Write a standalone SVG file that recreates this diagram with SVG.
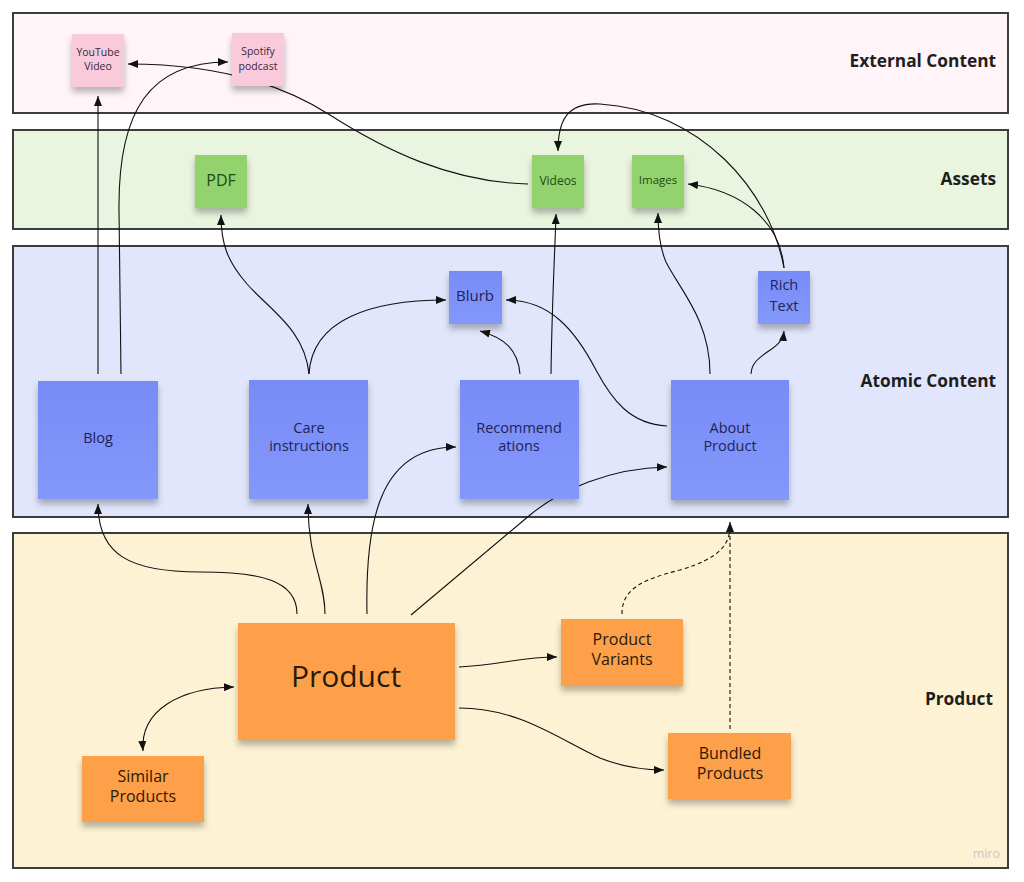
<svg xmlns="http://www.w3.org/2000/svg" width="1024" height="882" viewBox="0 0 1024 882">
<style>
.lane{stroke:#3d3d3d;stroke-width:2}
.lt{font-family:"Open Sans","Liberation Sans",sans-serif;font-weight:bold;font-size:17.3px;fill:#1e1e1e;text-anchor:end}
.t{font-family:"Open Sans","Liberation Sans",sans-serif;text-anchor:middle}
.pk{fill:#f9c9dc}.gr{fill:#92d36e}.bl{fill:url(#bg)}.or{fill:#fea04a}
.tp{fill:#3a2a33;font-size:10.5px}.tg{fill:#234a14}.tb{fill:#1d2456}.to{fill:#2a1a08}
.c{fill:none;stroke:#111;stroke-width:1.1}
.d{stroke-dasharray:4 3}
</style>
<defs>
<linearGradient id="bg" x1="0" y1="0" x2="0" y2="1"><stop offset="0" stop-color="#788cf8"/><stop offset="1" stop-color="#8497fa"/></linearGradient>
<filter id="sh" x="-20%" y="-20%" width="140%" height="150%"><feDropShadow dx="0" dy="5" stdDeviation="3" flood-color="#000" flood-opacity="0.28"/></filter>
<marker id="a" viewBox="0 0 10 8" refX="10" refY="4" markerWidth="10" markerHeight="8" markerUnits="userSpaceOnUse" orient="auto-start-reverse"><path d="M0,0 L10,4 L0,8 z" fill="#111"/></marker>
</defs>
<g id="lanes">
<rect class="lane" x="13" y="13" width="995" height="100" fill="#fff4f7"/>
<rect class="lane" x="13" y="130" width="995" height="99" fill="#e9f5de"/>
<rect class="lane" x="13" y="246" width="995" height="271" fill="#e2e6fc"/>
<rect class="lane" x="13" y="533" width="995" height="335" fill="#fdf2d3"/>
<text class="lt" x="996" y="67">External Content</text>
<text class="lt" x="996" y="185">Assets</text>
<text class="lt" x="996" y="387">Atomic Content</text>
<text class="lt" x="993" y="705">Product</text>
<text x="1000" y="858" font-family="'Open Sans','Liberation Sans',sans-serif" font-size="12.5" fill="#c8c8c8" text-anchor="end">miro</text>
</g>
<g id="connectors">
<path class="c" marker-end="url(#a)" d="M98,374 L98,96"/>
<path class="c" marker-end="url(#a)" d="M121,374 L119,210 C118,110 150,62 228,62"/>
<path class="c" marker-end="url(#a)" d="M528,184 C450,182 385,150 330,115 C285,86 220,64 128,64"/>
<path class="c" marker-end="url(#a)" d="M309,374 C305,330 270,310 247,284 C228,262 221,245 221,215"/>
<path class="c" marker-end="url(#a)" d="M309,374 C312,320 370,300 446,300"/>
<path class="c" marker-end="url(#a)" d="M520,374 C518,350 505,338 480,331"/>
<path class="c" marker-end="url(#a)" d="M551,374 C552,300 555,250 556,214"/>
<path class="c" marker-end="url(#a)" d="M667,426 C630,424 612,400 596,370 C575,330 550,300 506,300"/>
<path class="c" marker-end="url(#a)" d="M710,374 C710,320 680,290 666,262 C660,248 658,232 658,213"/>
<path class="c" marker-end="url(#a)" d="M751,374 C752,352 782,352 784,331"/>
<path class="c" marker-end="url(#a)" d="M784,268 C780,220 740,190 688,184"/>
<path class="c" marker-end="url(#a)" d="M784,268 C770,190 700,110 600,104 C566,102 558,122 558,151"/>
<path class="c" marker-end="url(#a)" d="M297,614 C297,580 260,572 200,572 C130,572 98,555 98,504"/>
<path class="c" marker-end="url(#a)" d="M325,614 C325,580 308,560 308,504"/>
<path class="c" marker-end="url(#a)" d="M367,614 C365,520 380,447 456,447"/>
<path class="c" marker-end="url(#a)" d="M411,615 L530,515 C560,490 610,468 667,467"/>
<path class="c" marker-end="url(#a)" d="M459,667 C500,665 520,657 557,657"/>
<path class="c" marker-end="url(#a)" d="M459,708 C520,708 560,740 600,758 C625,768 645,770 664,770"/>
<path class="c" marker-start="url(#a)" marker-end="url(#a)" d="M143,751 C140,710 180,688 234,687"/>
<path class="c d" d="M622,614 C622,590 640,580 680,570 C720,558 730,545 730,525"/>
<path class="c d" marker-end="url(#a)" d="M730,729 L730,522"/>
</g>
<g id="youtube"><rect class="pk" x="72" y="34" width="52" height="53" filter="url(#sh)"/><text class="t tp" x="98" y="56">YouTube</text><text class="t tp" x="98" y="70">Video</text></g>
<g id="spotify"><rect class="pk" x="232" y="33" width="52" height="53" filter="url(#sh)"/><text class="t tp" x="258" y="55">Spotify</text><text class="t tp" x="258" y="70">podcast</text></g>
<g id="pdf"><rect class="gr" x="195" y="155" width="52" height="53" filter="url(#sh)"/><text class="t tg" x="221" y="186" font-size="16">PDF</text></g>
<g id="videos"><rect class="gr" x="532" y="155" width="52" height="53" filter="url(#sh)"/><text class="t tg" x="558" y="185" font-size="12">Videos</text></g>
<g id="images"><rect class="gr" x="632" y="155" width="52" height="53" filter="url(#sh)"/><text class="t tg" x="658" y="184" font-size="11.5">Images</text></g>
<g id="blurb"><rect class="bl" x="449" y="271" width="53" height="53" filter="url(#sh)"/><text class="t tb" x="475" y="301" font-size="15">Blurb</text></g>
<g id="richtext"><rect class="bl" x="758" y="271" width="52" height="53" filter="url(#sh)"/><text class="t tb" x="784" y="290" font-size="14.5">Rich</text><text class="t tb" x="784" y="311" font-size="14.5">Text</text></g>
<g id="blog"><rect class="bl" x="38" y="381" width="120" height="118" filter="url(#sh)"/><text class="t tb" x="98" y="443" font-size="14.5">Blog</text></g>
<g id="care"><rect class="bl" x="249" y="380" width="119" height="119" filter="url(#sh)"/><text class="t tb" x="309" y="433" font-size="14.5">Care</text><text class="t tb" x="309" y="451" font-size="14.5">instructions</text></g>
<g id="recommendations"><rect class="bl" x="460" y="380" width="119" height="119" filter="url(#sh)"/><text class="t tb" x="519" y="433" font-size="14.5">Recommend</text><text class="t tb" x="519" y="451" font-size="14.5">ations</text></g>
<g id="about"><rect class="bl" x="671" y="380" width="118" height="120" filter="url(#sh)"/><text class="t tb" x="730" y="433" font-size="14.5">About</text><text class="t tb" x="730" y="451" font-size="14.5">Product</text></g>
<g id="product"><rect class="or" x="238" y="623" width="217" height="117" filter="url(#sh)"/><text class="t to" x="346" y="687" font-size="30">Product</text></g>
<g id="similar"><rect class="or" x="82" y="756" width="122" height="66" filter="url(#sh)"/><text class="t to" x="143" y="782" font-size="16">Similar</text><text class="t to" x="143" y="802" font-size="16">Products</text></g>
<g id="variants"><rect class="or" x="561" y="619" width="122" height="67" filter="url(#sh)"/><text class="t to" x="622" y="645" font-size="16">Product</text><text class="t to" x="622" y="665" font-size="16">Variants</text></g>
<g id="bundled"><rect class="or" x="668" y="733" width="123" height="66" filter="url(#sh)"/><text class="t to" x="730" y="759" font-size="16">Bundled</text><text class="t to" x="730" y="779" font-size="16">Products</text></g>
</svg>
